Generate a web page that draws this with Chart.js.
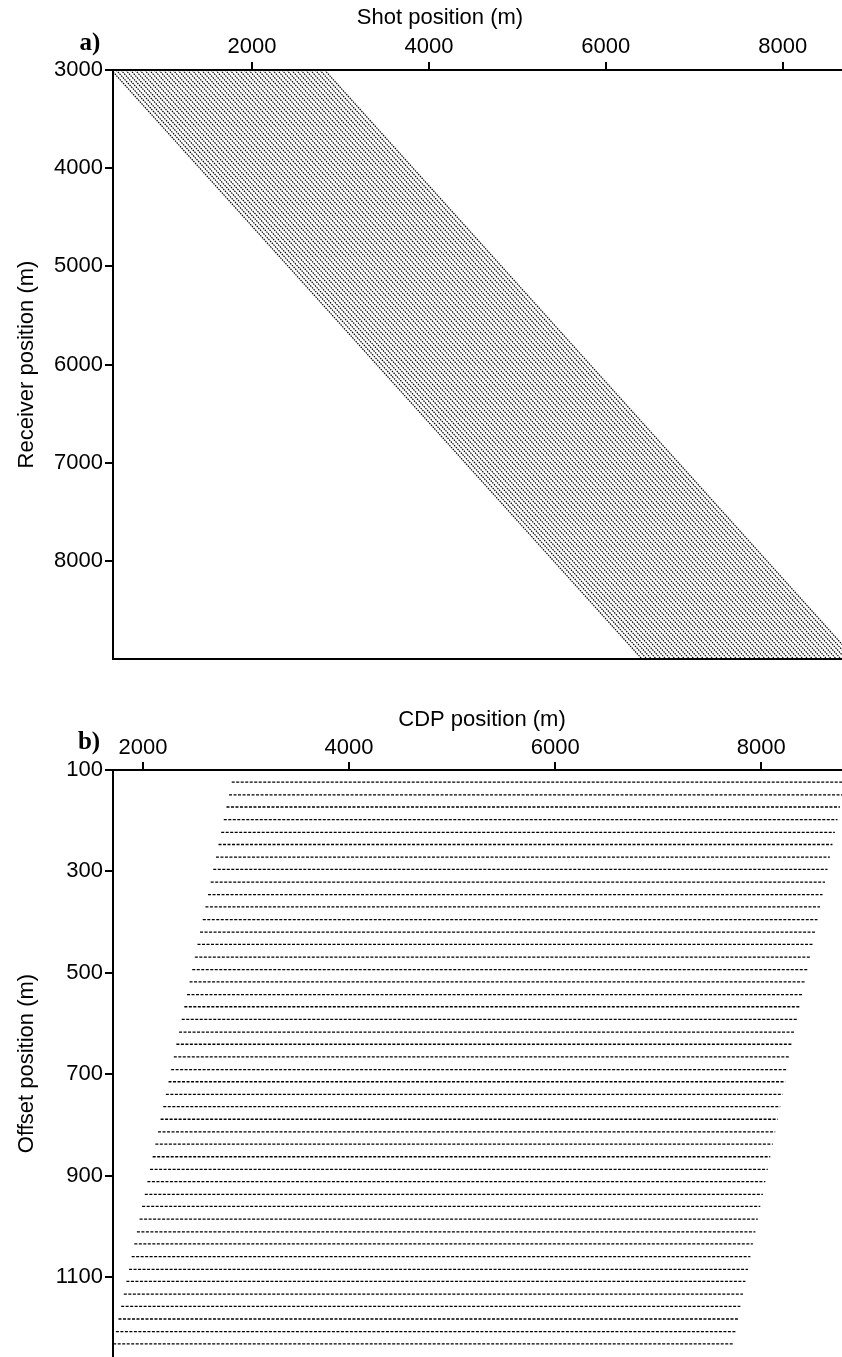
<!DOCTYPE html>
<html>
<head>
<meta charset="utf-8">
<script src="https://cdn.jsdelivr.net/npm/chart.js@4.4.0/dist/chart.umd.min.js"></script>
<style>
html, body { margin: 0; padding: 0; background: #fff; overflow: hidden; }
#wrap { position: relative; width: 842px; height: 1357px; }
canvas { position: absolute; left: 0; }
#chartA { top: 0; }
#chartB { top: 690px; }
</style>
</head>
<body>
<div id="wrap">
  <canvas id="chartA" width="842" height="680"></canvas>
  <canvas id="chartB" width="842" height="667"></canvas>
</div>
<script>
// panel a: shot vs receiver
var shotTicks = [2000, 4000, 6000, 8000]
var receiverTicks = [3000, 4000, 5000, 6000, 7000, 8000]
var shotRange = [428, 8671]
var receiverRange = [3000, 9000]
// one diagonal per value of (receiver - shot), m
var receiverMinusShot = [2590, 2536, 2483, 2429, 2376, 2322, 2269, 2215, 2162, 2108,
    2054, 2001, 1947, 1894, 1840, 1787, 1733, 1680, 1626, 1572,
    1519, 1465, 1412, 1358, 1305, 1251, 1198, 1144, 1090, 1037,
    983, 930, 876, 823, 769, 716, 662, 608, 555, 501,
    448, 394, 341, 287, 234, 180]

// panel b: CDP vs offset
var cdpTicks = [2000, 4000, 6000, 8000]
var offsetTicks = [100, 300, 500, 700, 900, 1100]
var cdpRange = [1709, 8783]
var offsetRange = [100, 1258]
var offsets = [124, 149, 173, 198, 223, 247, 272, 296, 321, 346,
    370, 395, 420, 444, 469, 494, 518, 543, 567, 592,
    617, 641, 666, 691, 715, 740, 764, 789, 814, 838,
    863, 888, 912, 937, 961, 986, 1011, 1035, 1060, 1085,
    1109, 1134, 1158, 1183, 1208, 1232]
var cdpStart = [2861, 2835, 2810, 2784, 2759, 2733, 2708, 2682, 2657, 2631,
    2606, 2580, 2554, 2529, 2503, 2478, 2452, 2427, 2401, 2376,
    2350, 2324, 2299, 2273, 2248, 2222, 2197, 2171, 2146, 2120,
    2094, 2069, 2043, 2018, 1992, 1967, 1941, 1916, 1890, 1865,
    1839, 1814, 1788, 1762, 1737, 1711]
var cdpEnd = [8811, 8787, 8763, 8739, 8714, 8690, 8666, 8642, 8618, 8594,
    8570, 8545, 8521, 8497, 8473, 8449, 8425, 8401, 8377, 8352,
    8328, 8304, 8280, 8256, 8232, 8208, 8184, 8159, 8135, 8111,
    8087, 8063, 8039, 8015, 7990, 7966, 7942, 7918, 7894, 7870,
    7846, 7822, 7797, 7773, 7749, 7725]

Chart.defaults.font.family = "'Liberation Sans', Arial, sans-serif"
Chart.defaults.font.size = 22
Chart.defaults.color = '#000'
Chart.defaults.animation = false

function fixTicks(values) {
    return function (scale) {
        scale.ticks = values.map(v => ({ value: v }))
    }
}

function fixSize(w, h) {
    return function (scale) {
        if (w != null) scale.width = w
        if (h != null) scale.height = h
        scale.paddingLeft = 0
        scale.paddingRight = 0
        scale.paddingTop = 0
        scale.paddingBottom = 0
    }
}

var panelText = {
    id: 'panelText',
    afterDraw(chart, args, opts) {
        var ctx = chart.ctx
        ctx.save()
        ctx.fillStyle = '#000'
        ctx.textAlign = 'center'
        ctx.textBaseline = 'middle'
        ctx.font = "bold 25px 'Liberation Serif', 'Times New Roman', serif"
        ctx.fillText(opts.letter, opts.letterX, opts.letterY)
        ctx.font = "22px 'Liberation Sans', Arial, sans-serif"
        ctx.fillText(opts.title, opts.titleX, opts.titleY)
        ctx.restore()
    }
}

var tickGrid = { display: true, drawOnChartArea: false, drawTicks: true, tickLength: 8, color: '#000', lineWidth: 2 }
var axisBorder = { display: true, color: '#000', width: 2 }

// ---- panel a
var dsA = receiverMinusShot.map(c => ({
    data: receiverRange.map(r => ({ x: r - c, y: r })),
    showLine: true,
    pointRadius: 0,
    borderColor: '#000',
    borderWidth: 1.2,
    borderDash: [1.5, 1]
}))

new Chart('chartA', {
    type: 'scatter',
    data: { datasets: dsA },
    plugins: [panelText],
    options: {
        responsive: false,
        layout: { padding: { top: 0, left: 0, right: 0, bottom: 21 } },
        plugins: {
            legend: { display: false },
            tooltip: { enabled: false },
            panelText: { letter: 'a)', letterX: 90, letterY: 44, title: 'Shot position (m)', titleX: 440, titleY: 18 }
        },
        scales: {
            x: {
                type: 'linear', position: 'top',
                min: shotRange[0], max: shotRange[1],
                afterBuildTicks: fixTicks(shotTicks),
                afterFit: fixSize(null, 70),
                grid: tickGrid, border: axisBorder,
                ticks: { padding: 2, autoSkip: false, maxRotation: 0, callback: v => String(v) }
            },
            x2: {
                type: 'linear', position: 'bottom',
                min: shotRange[0], max: shotRange[1],
                afterFit: fixSize(null, 0),
                grid: { display: false }, border: axisBorder,
                ticks: { display: false }
            },
            y: {
                type: 'linear', position: 'left', reverse: true,
                min: receiverRange[0], max: receiverRange[1],
                afterBuildTicks: fixTicks(receiverTicks),
                afterFit: fixSize(113, null),
                grid: tickGrid, border: axisBorder,
                ticks: { padding: 2, autoSkip: false, callback: v => String(v) },
                title: { display: true, text: 'Receiver position (m)', padding: { top: 14, bottom: 0 } }
            }
        }
    }
})

// ---- panel b
var dsB = offsets.map((o, i) => ({
    data: [{ x: cdpStart[i], y: o }, { x: cdpEnd[i], y: o }],
    showLine: true,
    pointRadius: 0,
    borderColor: '#000',
    borderWidth: 1.3,
    borderDash: [3, 1.5]
}))

new Chart('chartB', {
    type: 'scatter',
    data: { datasets: dsB },
    plugins: [panelText],
    options: {
        responsive: false,
        layout: { padding: 0 },
        plugins: {
            legend: { display: false },
            tooltip: { enabled: false },
            panelText: { letter: 'b)', letterX: 89, letterY: 53, title: 'CDP position (m)', titleX: 482, titleY: 30 }
        },
        scales: {
            x: {
                type: 'linear', position: 'top',
                min: cdpRange[0], max: cdpRange[1],
                afterBuildTicks: fixTicks(cdpTicks),
                afterFit: fixSize(null, 80),
                grid: tickGrid, border: axisBorder,
                ticks: { padding: 1, autoSkip: false, maxRotation: 0, callback: v => String(v) }
            },
            y: {
                type: 'linear', position: 'left', reverse: true,
                min: offsetRange[0], max: offsetRange[1],
                afterBuildTicks: fixTicks(offsetTicks),
                afterFit: fixSize(113, null),
                grid: tickGrid, border: axisBorder,
                ticks: { padding: 2, autoSkip: false, callback: v => String(v) },
                title: { display: true, text: 'Offset position (m)', padding: { top: 14, bottom: 0 } }
            }
        }
    }
})
</script>
</body>
</html>
